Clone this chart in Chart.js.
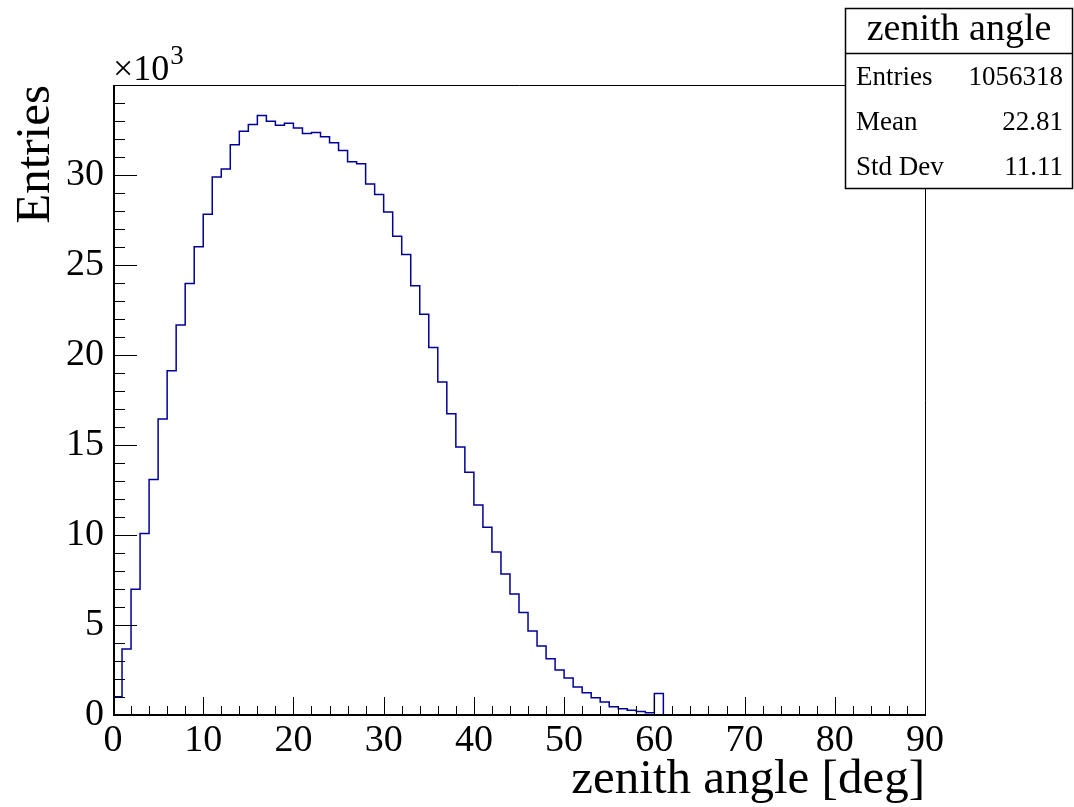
<!DOCTYPE html>
<html><head><meta charset="utf-8">
<script src="https://cdn.jsdelivr.net/npm/chart.js@4"></script>
<style>html,body{margin:0;padding:0;background:#fff;overflow:hidden;} canvas{display:block;}</style>
</head><body>
<canvas id="c" width="1074" height="807"></canvas>
<script>
// ---- data ----
const binLowEdges = [0,1,2,3,4,5,6,7,8,9,10,11,12,13,14,15,16,17,18,19,20,21,22,23,24,25,26,27,28,29,
  30,31,32,33,34,35,36,37,38,39,40,41,42,43,44,45,46,47,48,49,50,51,52,53,54,55,56,57,58,59,
  60,61,62,63,64,65,66,67,68,69,70,71,72,73,74,75,76,77,78,79,80,81,82,83,84,85,86,87,88,89];
const xRange = [0, 90];
const binCounts = [1020,3670,6980,10090,13080,16440,19120,21660,23970,26010,
  27820,29890,30340,31680,32430,32810,33310,32990,32770,32880,
  32610,32310,32360,32130,31790,31360,30730,30630,29500,28910,
  27940,26600,25580,23850,22260,20420,18500,16730,14890,13480,
  11670,10430,9060,7830,6720,5690,4670,3830,3130,2500,
  2060,1560,1240,960,720,460,350,260,190,130,
  1200,0,0,0,0,0,0,0,0,0,
  0,0,0,0,0,0,0,0,0,0,
  0,0,0,0,0,0,0,0,0,0];
const xTickValues = [0,10,20,30,40,50,60,70,80,90];
const xTickLabels = ['0','10','20','30','40','50','60','70','80','90'];
const yTickValues = [0,5000,10000,15000,20000,25000,30000];
const yTickLabels = ['0','5','10','15','20','25','30'];
const yMax = 35000;
const xAxisTitle = 'zenith angle [deg]';
const yAxisTitle = 'Entries';
const yExponentBase = '\u00d710';
const yExponent = '3';
const statsTitle = 'zenith angle';
const statLabels = ['Entries', 'Mean', 'Std Dev'];
const statValues = ['1056318', '22.81', '11.11'];

// ---- chart ----
const SERIF = '"Liberation Serif", "DejaVu Serif", serif';
const histPoints = binLowEdges.map((x, i) => ({x: x, y: binCounts[i]}));
histPoints.push({x: xRange[1], y: binCounts[binCounts.length - 1]});

const rootDecor = {
  id: 'rootDecor',
  afterDraw(chart) {
    const ctx = chart.ctx;
    const a = chart.chartArea;
    const xs = chart.scales.x, ys = chart.scales.y;
    const L = Math.round(a.left), R = Math.round(a.right), T = Math.round(a.top), B = Math.round(a.bottom);
    ctx.save();
    ctx.strokeStyle = '#000';
    // frame top/right thin
    ctx.lineWidth = 1;
    ctx.beginPath();
    ctx.moveTo(L, T + 0.5); ctx.lineTo(R + 0.5, T + 0.5); ctx.lineTo(R + 0.5, B);
    ctx.stroke();
    // axes left/bottom thicker
    ctx.lineWidth = 2;
    ctx.beginPath();
    ctx.moveTo(L + 1, T); ctx.lineTo(L + 1, B); ctx.lineTo(R + 1, B);
    ctx.stroke();
    // x ticks (inward)
    ctx.lineWidth = 1;
    ctx.beginPath();
    for (let v = xRange[0]; v <= xRange[1]; v += 2) {
      const px = Math.round(xs.getPixelForValue(v)) + 0.5;
      const len = (v % 10 === 0) ? 18 : 9;
      ctx.moveTo(px, B);
      ctx.lineTo(px, B - len);
    }
    // y ticks (inward)
    for (let v = 0; v <= yMax; v += 1000) {
      const py = Math.round(ys.getPixelForValue(v)) + 0.5;
      const len = (v % 5000 === 0) ? 24 : 12;
      ctx.moveTo(L, py);
      ctx.lineTo(L + len, py);
    }
    ctx.stroke();
    // exponent label
    ctx.fillStyle = '#000';
    ctx.textBaseline = 'alphabetic';
    ctx.textAlign = 'left';
    ctx.font = '36px ' + SERIF;
    ctx.fillText(yExponentBase, a.left, 80);
    const w = ctx.measureText(yExponentBase).width;
    ctx.font = '27px ' + SERIF;
    ctx.fillText(yExponent, a.left + w + 1, 64);
    // stats box
    const bx = 845.5, by = 8.5, bw = 227, bh = 180;
    ctx.fillStyle = '#fff';
    ctx.fillRect(bx, by, bw, bh);
    ctx.lineWidth = 1.5;
    ctx.strokeRect(bx, by, bw, bh);
    ctx.beginPath();
    ctx.moveTo(bx, 53.5); ctx.lineTo(bx + bw, 53.5);
    ctx.stroke();
    ctx.fillStyle = '#000';
    ctx.textBaseline = 'middle';
    ctx.textAlign = 'center';
    ctx.font = '38px ' + SERIF;
    ctx.fillText(statsTitle, bx + bw / 2, 30);
    ctx.font = '27px ' + SERIF;
    const rowY = [78, 123, 168];
    statLabels.forEach((lab, i) => {
      ctx.textAlign = 'left';
      ctx.fillText(lab, 856, rowY[i]);
      ctx.textAlign = 'right';
      ctx.fillText(statValues[i], 1063, rowY[i]);
    });
    ctx.restore();
  }
};

new Chart(document.getElementById('c'), {
  type: 'line',
  data: {
    datasets: [{
      data: histPoints,
      stepped: 'before',
      borderColor: '#000099',
      borderWidth: 1.5,
      pointRadius: 0,
      fill: false,
      tension: 0
    }]
  },
  options: {
    responsive: false,
    animation: false,
    devicePixelRatio: 1,
    layout: {padding: {left: 0, top: 85, right: 149, bottom: 0}},
    plugins: {legend: {display: false}, tooltip: {enabled: false}},
    scales: {
      x: {
        type: 'linear',
        min: xRange[0], max: xRange[1],
        afterBuildTicks: s => { s.ticks = xTickValues.map(v => ({value: v})); },
        afterFit: s => { s.height = 92; },
        ticks: {
          callback: (v, i) => xTickLabels[i],
          font: {family: SERIF, size: 38},
          color: '#000', padding: 3, maxRotation: 0, autoSkip: false
        },
        grid: {display: false, drawTicks: false},
        border: {display: false},
        title: {
          display: true, text: xAxisTitle, align: 'end', color: '#000',
          font: {family: SERIF, size: 49, lineHeight: 1},
          padding: {top: 0, bottom: 2}
        }
      },
      y: {
        type: 'linear',
        min: 0, max: yMax,
        afterBuildTicks: s => { s.ticks = yTickValues.map(v => ({value: v})); },
        afterFit: s => { s.width = 113; },
        ticks: {
          callback: (v, i) => yTickLabels[i],
          font: {family: SERIF, size: 38},
          color: '#000', padding: 9, autoSkip: false
        },
        grid: {display: false, drawTicks: false},
        border: {display: false},
        title: {
          display: true, text: yAxisTitle, align: 'end', color: '#000',
          font: {family: SERIF, size: 49, lineHeight: 1},
          padding: {top: 12, bottom: 0}
        }
      }
    }
  },
  plugins: [rootDecor]
});
</script>
</body></html>
